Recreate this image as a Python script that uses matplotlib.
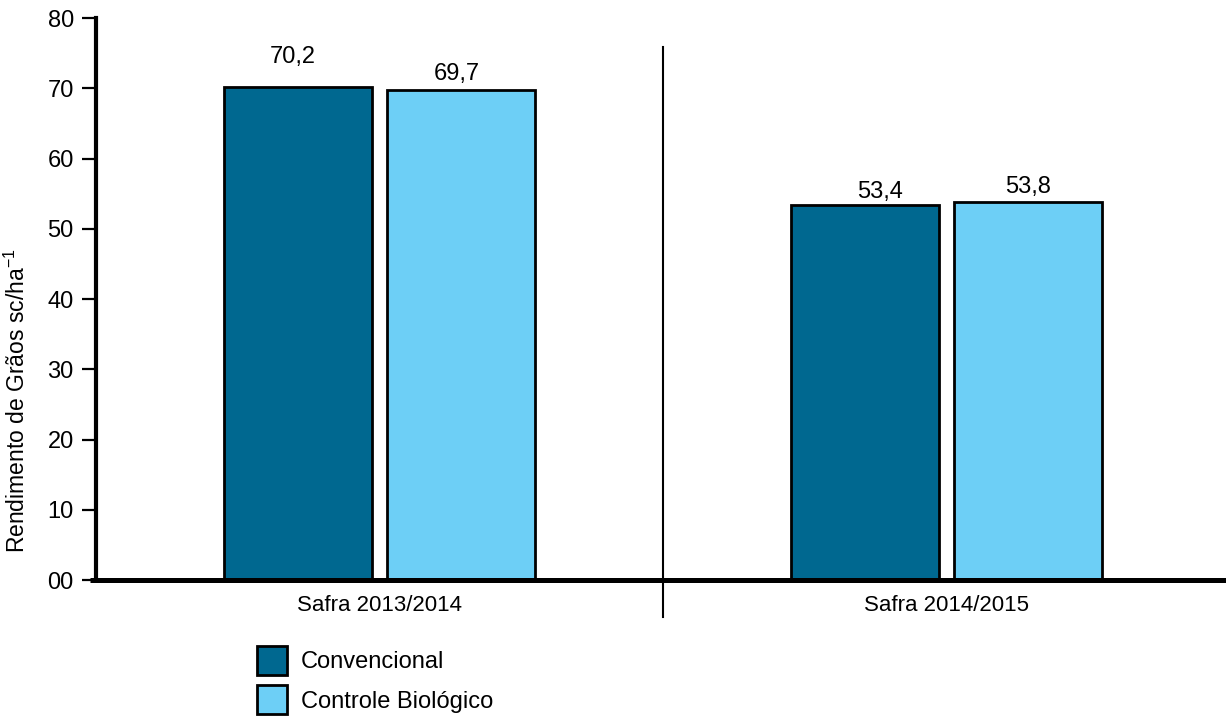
import numpy as np
import matplotlib
matplotlib.use("Agg")
import matplotlib.pyplot as plt
from matplotlib.patches import Patch

# ----------------------------
# Data
# ----------------------------

safras = ["Safra 2013/2014", "Safra 2014/2015"]
convencional = [70.2, 53.4]
controle_bio = [69.7, 53.8]
y_ticks = [0, 10, 20, 30, 40, 50, 60, 70, 80]
y_tick_labels = ["00", "10", "20", "30", "40", "50", "60", "70", "80"]

# label nudges (dx, dy in points from bar top centre), as in the original
conv_label_off = [(-3.6, 13.5), (10.8, 1.6)]
bio_label_off = [(-3.2, 4.2), (0, 3.3)]

cor_conv = "#006890"
cor_bio = "#6dcff6"

plt.rcParams["font.family"] = ["Liberation Sans", "DejaVu Sans"]
plt.rcParams["mathtext.fontset"] = "custom"
plt.rcParams["mathtext.rm"] = "Liberation Sans"

# ----------------------------
# Figure
# ----------------------------

fig = plt.figure(figsize=(12.26, 7.19), dpi=100)
ax = fig.add_axes([0.0783, 0.1933, 0.925, 0.7816])

x = np.arange(len(safras))
w = 0.261
off = 0.144

bars1 = ax.bar(x - off, convencional, w, color=cor_conv, edgecolor="black", linewidth=2)
bars2 = ax.bar(x + off, controle_bio, w, color=cor_bio, edgecolor="black", linewidth=2)

for bars, vals, offs in [(bars1, convencional, conv_label_off),
                         (bars2, controle_bio, bio_label_off)]:
    for b, v, o in zip(bars, vals, offs):
        ax.annotate(f"{v:.1f}".replace(".", ","),
                    (b.get_x() + b.get_width() / 2, b.get_height()),
                    xytext=o, textcoords="offset points",
                    ha="center", va="bottom", fontsize=17)

ax.set_xlim(-0.5, 1.5)
ax.set_ylim(0, 80)

# divider between safras
ax.plot([0.5, 0.5], [-5.3, 75.9], color="black", lw=1.5, clip_on=False)

# bottom axis running a bit past the y axis
ax.plot([-0.51, 1.5], [0, 0], color="black", lw=3.6, clip_on=False, solid_capstyle="butt")

for s in ["top", "right", "bottom"]:
    ax.spines[s].set_visible(False)
ax.spines["left"].set_linewidth(3)

ax.set_yticks(y_ticks)
ax.set_yticklabels(y_tick_labels, fontsize=17)
ax.tick_params(axis="y", length=10, width=1.6, pad=6)

ax.set_xticks(x)
ax.set_xticklabels(safras, fontsize=16)
ax.tick_params(axis="x", length=0, pad=11)

fig.text(17 / 1226, 0.442, "Rendimento de Grãos sc/ha$^{\\mathrm{-1}}$",
         rotation=90, ha="center", va="center", fontsize=16.5)

# ----------------------------
# Legend
# ----------------------------

handles = [
    Patch(facecolor=cor_conv, edgecolor="black", linewidth=2, label="Convencional"),
    Patch(facecolor=cor_bio, edgecolor="black", linewidth=2, label="Controle Biológico"),
]
fig.legend(handles=handles, loc="upper left", bbox_to_anchor=(257 / 1226, 1 - 646 / 719),
           frameon=False, fontsize=17, handlelength=1.27, handleheight=1.53,
           handletextpad=0.6, labelspacing=0.42, borderpad=0, borderaxespad=0)

fig.savefig("out.png", dpi=100)
